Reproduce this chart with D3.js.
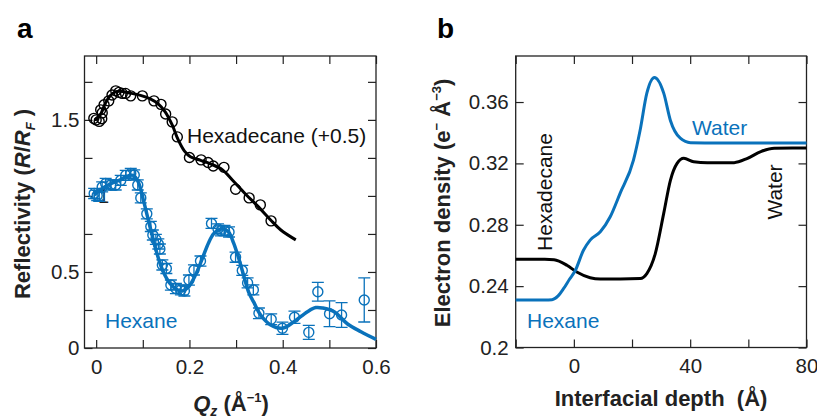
<!DOCTYPE html>
<html>
<head>
<meta charset="utf-8">
<script src="https://cdn.jsdelivr.net/npm/d3@7"></script>
<style>
  body { margin: 0; background: #fff; }
  svg { font-family: "Liberation Sans", Arial, sans-serif; }
</style>
</head>
<body>
<div id="chart"></div>
<script>
// Panel a: reflectivity data
let hexadecaneQ = [-0.005, 0, 0.0065, 0.012, 0.013, 0.0097, 0.017, 0.027, 0.034, 0.042, 0.049, 0.056, 0.063, 0.074, 0.099, 0.124, 0.139, 0.149, 0.163, 0.174, 0.200, 0.225, 0.240, 0.251, 0.274, 0.299, 0.328, 0.352, 0.375];
let hexadecaneR = [1.010, 1.000, 0.990, 1.007, 1.046, 1.066, 1.099, 1.125, 1.164, 1.191, 1.181, 1.174, 1.174, 1.158, 1.158, 1.125, 1.102, 1.039, 0.987, 0.888, 0.753, 0.737, 0.720, 0.697, 0.688, 0.544, 0.487, 0.441, 0.336];
let hexadecaneFitQ = [-0.004, 0.002, 0.011, 0.019, 0.030, 0.041, 0.052, 0.069, 0.095, 0.116, 0.133, 0.148, 0.163, 0.176, 0.189, 0.202, 0.224, 0.245, 0.271, 0.292, 0.320, 0.348, 0.374, 0.396, 0.428];
let hexadecaneFitR = [1.000, 1.007, 1.046, 1.105, 1.158, 1.184, 1.188, 1.178, 1.161, 1.138, 1.105, 1.053, 0.967, 0.868, 0.796, 0.757, 0.734, 0.711, 0.671, 0.605, 0.513, 0.428, 0.342, 0.276, 0.211];
let hexadecaneOffset = 0.5;

let hexaneQ = [-0.0043, 0.0022, 0.0065, 0.0129, 0.0204, 0.0312, 0.0419, 0.0527, 0.0634, 0.0742, 0.0817, 0.0892, 0.0957, 0.1086, 0.1172, 0.1215, 0.1280, 0.1333, 0.1366, 0.1419, 0.1505, 0.1602, 0.1710, 0.1817, 0.1892, 0.1989, 0.2097, 0.2237, 0.2473, 0.2613, 0.2677, 0.2753, 0.2849, 0.2989, 0.3133, 0.3247, 0.3370, 0.3490, 0.3753, 0.3994, 0.4252, 0.4559, 0.4753, 0.5004, 0.5262, 0.5748];
let hexaneR = [1.016, 1.003, 0.997, 1.059, 1.082, 1.072, 1.072, 1.102, 1.135, 1.148, 1.138, 1.072, 0.987, 0.882, 0.799, 0.743, 0.714, 0.684, 0.651, 0.546, 0.523, 0.414, 0.391, 0.382, 0.375, 0.447, 0.513, 0.572, 0.819, 0.783, 0.770, 0.773, 0.763, 0.597, 0.510, 0.428, 0.382, 0.228, 0.189, 0.130, 0.202, 0.103, 0.370, 0.225, 0.217, 0.316];
let hexaneErr = [0.033, 0.033, 0.033, 0.033, 0.033, 0.033, 0.033, 0.033, 0.033, 0.033, 0.033, 0.033, 0.033, 0.033, 0.033, 0.033, 0.033, 0.033, 0.033, 0.033, 0.033, 0.033, 0.033, 0.033, 0.033, 0.033, 0.033, 0.033, 0.033, 0.033, 0.033, 0.033, 0.033, 0.033, 0.033, 0.033, 0.033, 0.035, 0.035, 0.04, 0.04, 0.046, 0.062, 0.085, 0.082, 0.145];
let hexaneFitQ = [-0.0043, 0.0086, 0.0301, 0.0516, 0.0688, 0.0796, 0.0903, 0.1011, 0.1118, 0.1226, 0.1333, 0.1441, 0.1591, 0.1742, 0.1849, 0.1978, 0.2129, 0.2280, 0.2409, 0.2516, 0.2624, 0.2731, 0.2839, 0.2946, 0.3054, 0.3161, 0.3269, 0.3376, 0.3527, 0.3742, 0.3994, 0.4243, 0.4531, 0.4710, 0.4860, 0.5103, 0.5391, 0.5677, 0.6];
let hexaneFitR = [1.007, 1.039, 1.079, 1.105, 1.132, 1.135, 1.092, 0.974, 0.842, 0.711, 0.592, 0.500, 0.421, 0.382, 0.375, 0.401, 0.480, 0.592, 0.691, 0.750, 0.776, 0.783, 0.763, 0.691, 0.592, 0.480, 0.368, 0.303, 0.217, 0.151, 0.130, 0.173, 0.239, 0.266, 0.263, 0.239, 0.158, 0.107, 0.057];

let aXTicks = [0, 0.1, 0.2, 0.3, 0.4, 0.5, 0.6];
let aXLabels = { 0: "0", 0.2: "0.2", 0.4: "0.4", 0.6: "0.6" };
let aYTicks = [0, 0.25, 0.5, 0.75, 1, 1.25, 1.5, 1.75];
let aYLabels = { 0: "0", 0.5: "0.5", 1.5: "1.5" };

// Panel b: electron density profiles
let hexaneDepth = [-20, -10, -7.5, -5.5, -3.5, -1.5, 0.45, 3.3, 5.6, 9.1, 12.5, 15.9, 20.5, 22.8, 25.1, 27.7, 30.9, 33.2, 36.6, 40.1, 50, 80];
let hexaneDensity = [0.231, 0.231, 0.2312, 0.2335, 0.2385, 0.2445, 0.250, 0.2634, 0.270, 0.2754, 0.2852, 0.3005, 0.3222, 0.3418, 0.3658, 0.376, 0.3658, 0.348, 0.3364, 0.3335, 0.3333, 0.3333];
let hexadecaneDepth = [-20, -10, -6.8, -2.4, 1.0, 5.6, 9.1, 16, 22.8, 25.1, 28.0, 30.9, 33.2, 35.5, 37.8, 41.2, 45.9, 55.1, 59.7, 64.3, 68.9, 80];
let hexadecaneDensity = [0.2575, 0.2575, 0.2572, 0.2536, 0.2492, 0.2455, 0.2447, 0.2447, 0.2450, 0.2482, 0.2612, 0.2874, 0.309, 0.320, 0.3233, 0.3211, 0.3205, 0.3205, 0.3233, 0.3277, 0.3299, 0.330];

let bXTicks = [-20, 0, 20, 40, 60, 80];
let bXLabels = { 0: "0", 40: "40", 80: "80" };
let bYTicks = [0.2, 0.24, 0.28, 0.32, 0.36];
let bYLabels = { 0.2: "0.2", 0.24: "0.24", 0.28: "0.28", 0.32: "0.32", 0.36: "0.36" };

let blue = "#0a72bb";
let ink = "#222";

let svg = d3
  .select("#chart")
  .append("svg")
  .attr("width", 817)
  .attr("height", 420);

function drawFrame(g, xScale, yScale, xTicks, yTicks, xLabels, yLabels, yPad) {
  let [x0, x1] = xScale.range();
  let [y0, y1] = yScale.range();

  // ticks on all four sides, pointing in
  let fmtX = d => (xLabels[d] !== undefined ? xLabels[d] : "");
  let fmtY = d => (yLabels[d] !== undefined ? yLabels[d] : "");
  g.append("g")
    .attr("transform", `translate(0, ${y0})`)
    .call(d3.axisBottom(xScale).tickValues(xTicks).tickSizeInner(-8).tickSizeOuter(0).tickPadding(11).tickFormat(fmtX));
  g.append("g")
    .attr("transform", `translate(0, ${y1})`)
    .call(d3.axisTop(xScale).tickValues(xTicks).tickSizeInner(-8).tickSizeOuter(0).tickFormat(""));
  g.append("g")
    .attr("transform", `translate(${x0}, 0)`)
    .call(d3.axisLeft(yScale).tickValues(yTicks).tickSizeInner(-8).tickSizeOuter(0).tickPadding(yPad).tickFormat(fmtY));
  g.append("g")
    .attr("transform", `translate(${x1}, 0)`)
    .call(d3.axisRight(yScale).tickValues(yTicks).tickSizeInner(-8).tickSizeOuter(0).tickFormat(""));

  g.selectAll(".domain").remove();
  g.selectAll(".tick line").attr("stroke", ink).attr("stroke-width", 1.2);
  g.selectAll(".tick text")
    .attr("fill", ink)
    .style("font-size", "20.5px")
    .style("font-family", "'Liberation Sans', Arial, sans-serif");

  g.append("rect")
    .attr("x", x0)
    .attr("y", y1)
    .attr("width", x1 - x0)
    .attr("height", y0 - y1)
    .attr("fill", "none")
    .attr("stroke", ink)
    .attr("stroke-width", 1.3);
}

// ---------- panel a ----------
let xA = d3.scaleLinear().domain([-0.025, 0.6]).range([84.5, 376]);
let yA = d3.scaleLinear().domain([0, 1.92]).range([348, 56]);
let gA = svg.append("g");
drawFrame(gA, xA, yA, aXTicks, aYTicks, aXLabels, aYLabels, 5);

// stray "1" tick label sitting inside the plot
gA.append("text")
  .attr("x", xA(0.016))
  .attr("y", yA(1) + 7)
  .attr("text-anchor", "middle")
  .attr("fill", ink)
  .style("font-size", "20px")
  .text("1");

let lineA = d3.line().x(d => xA(d[0])).y(d => yA(d[1])).curve(d3.curveCatmullRom);

// hexane error bars and circles
let hexIdx = Array.from(Array(hexaneQ.length).keys());
let errG = gA.append("g").attr("stroke", blue).attr("stroke-width", 1.3);
errG.selectAll(".err")
  .data(hexIdx)
  .enter()
  .append("path")
  .attr("fill", "none")
  .attr("d", i => {
    let x = xA(hexaneQ[i]);
    let yt = yA(hexaneR[i] + hexaneErr[i]);
    let yb = yA(hexaneR[i] - hexaneErr[i]);
    return `M${x},${yt}V${yb}M${x - 6},${yt}H${x + 6}M${x - 6},${yb}H${x + 6}`;
  });

gA.append("path")
  .datum(hexaneFitQ.map((q, i) => [q, hexaneFitR[i]]))
  .attr("d", lineA)
  .attr("fill", "none")
  .attr("stroke", blue)
  .attr("stroke-width", 3.5);

gA.append("g")
  .selectAll("circle")
  .data(hexIdx)
  .enter()
  .append("circle")
  .attr("cx", i => xA(hexaneQ[i]))
  .attr("cy", i => yA(hexaneR[i]))
  .attr("r", 5)
  .attr("fill", "none")
  .attr("stroke", blue)
  .attr("stroke-width", 1.4);

// hexadecane (offset by +0.5)
gA.append("path")
  .datum(hexadecaneFitQ.map((q, i) => [q, hexadecaneFitR[i] + hexadecaneOffset]))
  .attr("d", lineA)
  .attr("fill", "none")
  .attr("stroke", "#000")
  .attr("stroke-width", 3);

gA.append("g")
  .selectAll("circle")
  .data(Array.from(Array(hexadecaneQ.length).keys()))
  .enter()
  .append("circle")
  .attr("cx", i => xA(hexadecaneQ[i]))
  .attr("cy", i => yA(hexadecaneR[i] + hexadecaneOffset))
  .attr("r", 5)
  .attr("fill", "none")
  .attr("stroke", "#000")
  .attr("stroke-width", 1.4);

gA.append("text")
  .attr("x", 187)
  .attr("y", 143)
  .attr("fill", "#111")
  .style("font-size", "21px")
  .text("Hexadecane (+0.5)");
gA.append("text")
  .attr("x", 105)
  .attr("y", 328)
  .attr("fill", blue)
  .style("font-size", "21px")
  .text("Hexane");

// axis titles
let yTitleA = svg.append("text")
  .attr("transform", "translate(30, 204) rotate(-90)")
  .attr("text-anchor", "middle")
  .attr("fill", ink)
  .style("font-size", "22px")
  .style("font-weight", "bold");
yTitleA.append("tspan").text("Reflectivity (");
yTitleA.append("tspan").style("font-style", "italic").text("R");
yTitleA.append("tspan").text("/");
yTitleA.append("tspan").style("font-style", "italic").text("R");
yTitleA.append("tspan").style("font-style", "italic").style("font-size", "13px").attr("dy", 5).text("F");
yTitleA.append("tspan").attr("dy", -5).text(" )");

let xTitleA = svg.append("text")
  .attr("x", 231)
  .attr("y", 411)
  .attr("text-anchor", "middle")
  .attr("fill", ink)
  .style("font-size", "22px")
  .style("font-weight", "bold");
xTitleA.append("tspan").style("font-style", "italic").text("Q");
xTitleA.append("tspan").style("font-style", "italic").style("font-size", "14px").attr("dy", 5).text("z");
xTitleA.append("tspan").attr("dy", -5).text(" (Å");
xTitleA.append("tspan").style("font-size", "13px").attr("dy", -9).text("−1");
xTitleA.append("tspan").attr("dy", 9).text(")");

svg.append("text")
  .attr("x", 17)
  .attr("y", 38)
  .attr("fill", "#000")
  .style("font-size", "28px")
  .style("font-weight", "bold")
  .text("a");

// ---------- panel b ----------
let xB = d3.scaleLinear().domain([-20, 80]).range([515.7, 806.5]);
let yB = d3.scaleLinear().domain([0.2, 0.39]).range([347.5, 56]);
let gB = svg.append("g");
drawFrame(gB, xB, yB, bXTicks, bYTicks, bXLabels, bYLabels, 7);

let lineB = d3.line().x(d => xB(d[0])).y(d => yB(d[1])).curve(d3.curveMonotoneX);

gB.append("path")
  .datum(hexadecaneDepth.map((z, i) => [z, hexadecaneDensity[i]]))
  .attr("d", lineB)
  .attr("fill", "none")
  .attr("stroke", "#000")
  .attr("stroke-width", 3);

gB.append("path")
  .datum(hexaneDepth.map((z, i) => [z, hexaneDensity[i]]))
  .attr("d", lineB)
  .attr("fill", "none")
  .attr("stroke", blue)
  .attr("stroke-width", 3);

gB.append("text")
  .attr("transform", "translate(552, 192) rotate(-90)")
  .attr("text-anchor", "middle")
  .attr("fill", "#111")
  .style("font-size", "21px")
  .text("Hexadecane");
gB.append("text")
  .attr("transform", "translate(782, 192) rotate(-90)")
  .attr("text-anchor", "middle")
  .attr("fill", "#111")
  .style("font-size", "21px")
  .text("Water");
gB.append("text")
  .attr("x", 527)
  .attr("y", 328)
  .attr("fill", blue)
  .style("font-size", "21px")
  .text("Hexane");
gB.append("text")
  .attr("x", 692)
  .attr("y", 135)
  .attr("fill", blue)
  .style("font-size", "21px")
  .text("Water");

let yTitleB = svg.append("text")
  .attr("transform", "translate(450, 203) rotate(-90)")
  .attr("text-anchor", "middle")
  .attr("fill", ink)
  .style("font-size", "22px")
  .style("font-weight", "bold");
yTitleB.append("tspan").text("Electron density (e");
yTitleB.append("tspan").style("font-size", "13px").attr("dy", -9).text("−");
yTitleB.append("tspan").attr("dy", 9).text(" Å");
yTitleB.append("tspan").style("font-size", "13px").attr("dy", -9).text("−3");
yTitleB.append("tspan").attr("dy", 9).text(")");

svg.append("text")
  .attr("x", 661)
  .attr("y", 406)
  .attr("text-anchor", "middle")
  .attr("fill", ink)
  .style("font-size", "22px")
  .style("font-weight", "bold")
  .style("white-space", "pre")
  .text("Interfacial depth  (Å)");

svg.append("text")
  .attr("x", 437)
  .attr("y", 38)
  .attr("fill", "#000")
  .style("font-size", "28px")
  .style("font-weight", "bold")
  .text("b");
</script>
</body>
</html>
